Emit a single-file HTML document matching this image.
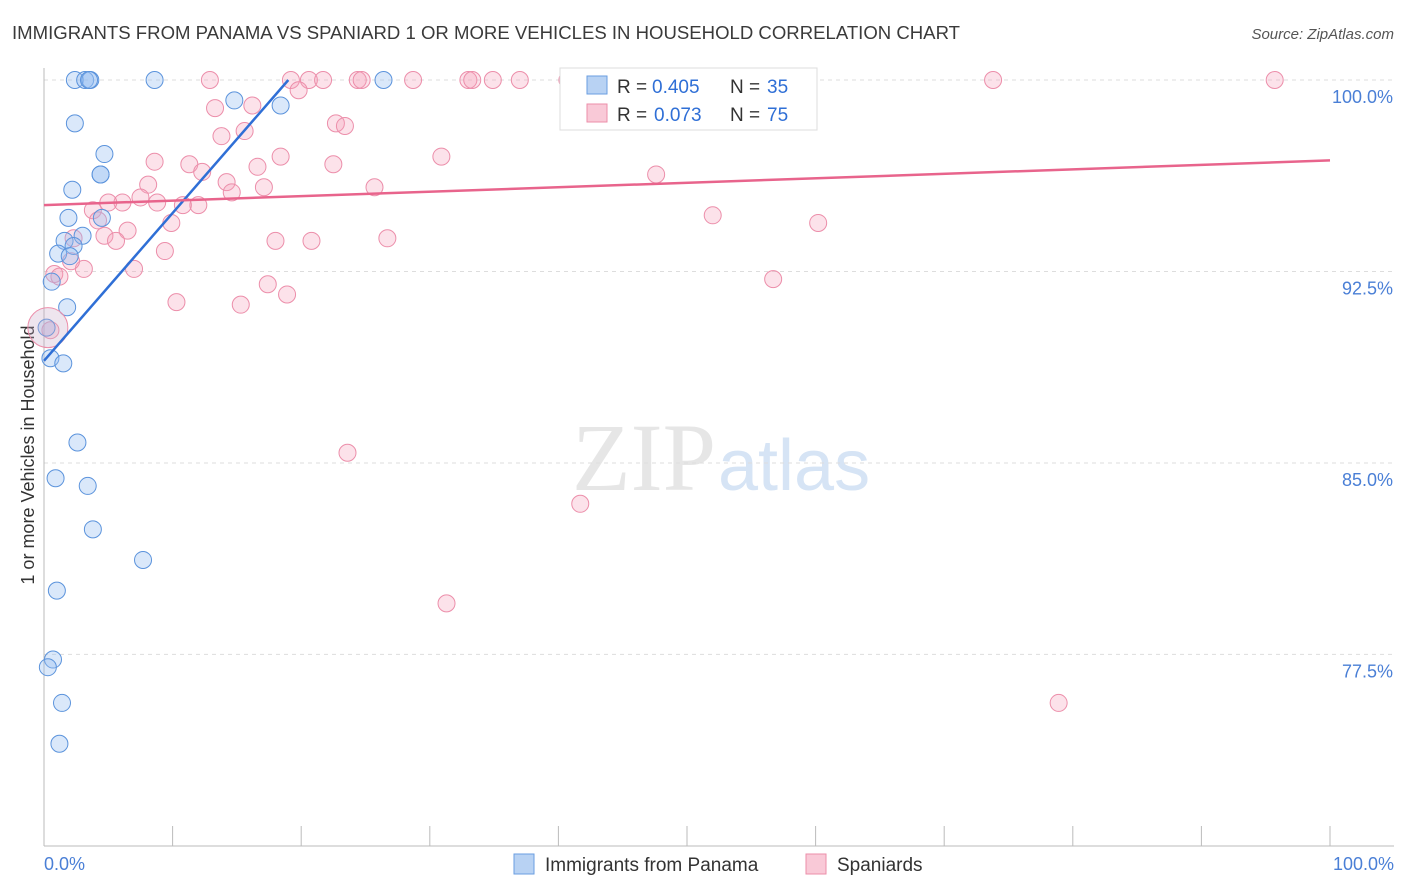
<!DOCTYPE html>
<html><head><meta charset="utf-8"><style>
body{margin:0;background:#fff;font-family:"Liberation Sans",sans-serif}
svg{display:block}
</style></head><body>
<svg id="chart" width="1406" height="892">
<text x="12" y="39" font-size="18" fill="#3a3a3a" textLength="948" lengthAdjust="spacingAndGlyphs">IMMIGRANTS FROM PANAMA VS SPANIARD 1 OR MORE VEHICLES IN HOUSEHOLD CORRELATION CHART</text>
<text x="1394" y="39" font-size="15" fill="#555" text-anchor="end" font-style="italic">Source: ZipAtlas.com</text>
<text x="716" y="490" font-size="96" fill="#e6e6e6" text-anchor="end" font-family="Liberation Serif,serif">ZIP</text>
<text x="718" y="490" font-size="72" fill="#d6e4f5">atlas</text>
<text transform="translate(34,455) rotate(-90)" font-size="18" fill="#333" text-anchor="middle">1 or more Vehicles in Household</text>
<g id="grid"></g><g id="pts"></g><g id="lines"></g>
<g>
<rect x="560" y="68" width="257" height="62" fill="#fff" stroke="#ddd"/>
<rect x="587" y="76" width="20" height="18" fill="#b8d2f3" stroke="#6a9ee0"/>
<text x="617" y="93" font-size="19" fill="#333">R =</text>
<text x="652" y="93" font-size="19" fill="#2f6fd6">0.405</text>
<text x="730" y="93" font-size="19" fill="#333">N =</text>
<text x="767" y="93" font-size="19" fill="#2f6fd6">35</text>
<rect x="587" y="104" width="20" height="18" fill="#f9c9d7" stroke="#ec8eaa"/>
<text x="617" y="121" font-size="19" fill="#333">R =</text>
<text x="654" y="121" font-size="19" fill="#2f6fd6">0.073</text>
<text x="730" y="121" font-size="19" fill="#333">N =</text>
<text x="767" y="121" font-size="19" fill="#2f6fd6">75</text>
</g>
<g>
<rect x="514" y="854" width="20" height="20" fill="#b8d2f3" stroke="#6a9ee0"/>
<text x="545" y="871" font-size="19" fill="#333">Immigrants from Panama</text>
<rect x="806" y="854" width="20" height="20" fill="#f9c9d7" stroke="#ec8eaa"/>
<text x="837" y="871" font-size="19" fill="#333">Spaniards</text>
</g>
<text x="44" y="870" font-size="18" fill="#4a7fd6">0.0%</text>
<text x="1394" y="870" font-size="18" fill="#4a7fd6" text-anchor="end">100.0%</text>
</svg>
<script>
const yTicks=[100,92.5,85,77.5];
const yTickLabels=["100.0%","92.5%","85.0%","77.5%"];
const blueX=[2.4,3.2,3.6,8.6,26.4,14.8,18.4,2.4,4.7,4.4,2.2,1.9,4.5,1.6,3.0,2.3,1.1,2.0,0.6,1.8,0.2,0.5,1.5,2.6,0.9,3.4,3.8,7.7,1.0,0.7,0.3,1.4,1.2,3.5,4.4];
const blueY=[100,100,100,100,100,99.2,99.0,98.3,97.1,96.3,95.7,94.6,94.6,93.7,93.9,93.5,93.2,93.1,92.1,91.1,90.3,89.1,88.9,85.8,84.4,84.1,82.4,81.2,80.0,77.3,77.0,75.6,74.0,100,96.3];
const pinkX=[12.9,19.2,20.6,21.7,24.4,24.7,28.7,33.0,33.3,34.9,37.0,40.7,45.2,47.9,51.0,58.6,73.8,95.7,16.2,19.8,13.3,22.7,23.4,15.6,13.8,18.4,30.9,8.6,11.3,16.6,22.5,12.3,47.6,8.1,14.2,17.1,25.7,14.6,7.5,6.1,5.0,8.8,12.0,10.8,3.8,4.2,52.0,60.2,9.9,6.5,4.7,5.6,18.0,20.8,26.7,2.3,9.4,3.1,7.0,0.8,1.2,17.4,56.7,18.9,10.3,15.3,0.5,23.6,41.7,31.3,78.9,2.1];
const pinkY=[100,100,100,100,100,100,100,100,100,100,100,100,100,100,100,100,100,100,99.0,99.6,98.9,98.3,98.2,98.0,97.8,97.0,97.0,96.8,96.7,96.6,96.7,96.4,96.3,95.9,96.0,95.8,95.8,95.6,95.4,95.2,95.2,95.2,95.1,95.1,94.9,94.5,94.7,94.4,94.4,94.1,93.9,93.7,93.7,93.7,93.8,93.8,93.3,92.6,92.6,92.4,92.3,92.0,92.2,91.6,91.3,91.2,90.2,85.4,83.4,79.5,75.6,92.9];
const blueLine=[[0,89.0],[19,100]];
const pinkLine=[[0,95.1],[100,96.85]];
const X=v=>44+v*12.86, Y=v=>80+(100-v)*25.53;
const NS="http://www.w3.org/2000/svg";
function mk(t,a,p){const e=document.createElementNS(NS,t);for(const k in a)e.setAttribute(k,a[k]);p.appendChild(e);return e;}
const grid=document.getElementById('grid');
yTicks.forEach((t,i)=>{
 const l=mk('line',{x1:44,x2:1394,y1:Y(t),y2:Y(t),stroke:'#ddd','stroke-dasharray':'4,4'},grid);
 
 
 const tx=mk('text',{x:1393,y:Y(t)+23,'font-size':18,fill:'#4a7fd6','text-anchor':'end'},grid);tx.textContent=yTickLabels[i];
 
 
});
const ax=mk('line',{x1:44,x2:44,y1:68,y2:846,stroke:'#bbb'},grid);


const bx=mk('line',{x1:44,x2:1394,y1:846,y2:846,stroke:'#bbb'},grid);


for(let i=0;i<=10;i++){const t=mk('line',{x1:X(i*10),x2:X(i*10),y1:826,y2:846,stroke:'#bbb'},grid);
 
 }
const pts=document.getElementById('pts');
pinkX.forEach((x,i)=>{const c=mk('circle',{cx:X(x),cy:Y(pinkY[i]),r:8.5,fill:'rgba(244,160,186,0.3)',stroke:'#ec8eaa','stroke-width':1},pts);
 
 });
blueX.forEach((x,i)=>{const c=mk('circle',{cx:X(x),cy:Y(blueY[i]),r:8.5,fill:'rgba(150,190,240,0.35)',stroke:'#5b93dc','stroke-width':1},pts);
 
 });
const big=mk('circle',{cx:X(0.3),cy:Y(90.3),r:20,fill:'rgba(200,170,200,0.3)',stroke:'#ec8eaa'},pts);


const lg=document.getElementById('lines');
const bl=mk('line',{x1:X(blueLine[0][0]),y1:Y(blueLine[0][1]),x2:X(blueLine[1][0]),y2:Y(blueLine[1][1]),stroke:'#2f6fd6','stroke-width':2.5},lg);


const pl=mk('line',{x1:X(pinkLine[0][0]),y1:Y(pinkLine[0][1]),x2:X(pinkLine[1][0]),y2:Y(pinkLine[1][1]),stroke:'#e8648c','stroke-width':2.5},lg);


</script>
</body></html>
